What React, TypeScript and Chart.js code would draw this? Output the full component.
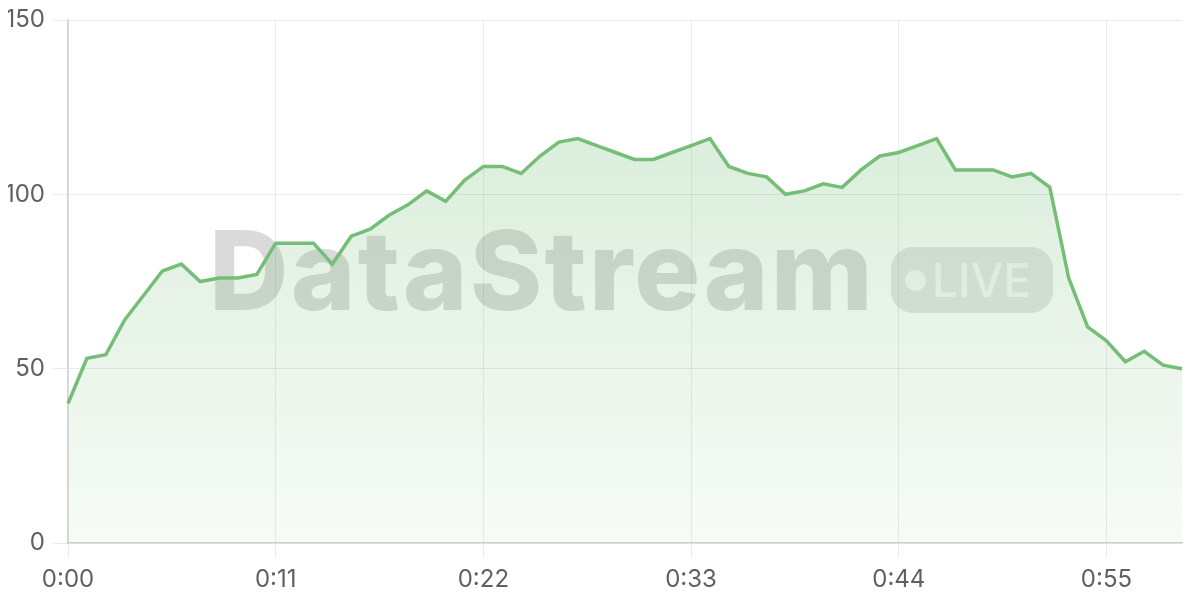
import React, { useEffect, useRef } from "react";
import { Chart, registerables } from "chart.js";

Chart.register(...registerables);

const timeLabels: string[] = [
  "0:00","0:01","0:02","0:03","0:04","0:05","0:06","0:07","0:08","0:09",
  "0:10","0:11","0:12","0:13","0:14","0:15","0:16","0:17","0:18","0:19",
  "0:20","0:21","0:22","0:23","0:24","0:25","0:26","0:27","0:28","0:29",
  "0:30","0:31","0:32","0:33","0:34","0:35","0:36","0:37","0:38","0:39",
  "0:40","0:41","0:42","0:43","0:44","0:45","0:46","0:47","0:48","0:49",
  "0:50","0:51","0:52","0:53","0:54","0:55","0:56","0:57","0:58","0:59",
];

const streamValues: number[] = [
  40, 53, 54, 64, 71, 78, 80, 75, 76, 76,
  77, 86, 86, 86, 80, 88, 90, 94, 97, 101,
  98, 104, 108, 108, 106, 111, 115, 116, 114, 112,
  110, 110, 112, 114, 116, 108, 106, 105, 100, 101,
  103, 102, 107, 111, 112, 114, 116, 107, 107, 107,
  105, 106, 102, 76, 62, 58, 52, 55, 51, 50,
];

const yTicks: number[] = [0, 50, 100, 150];
const labelEvery = 11;

const LINE = "rgb(118, 190, 120)";
const FONT = "Inter, 'Noto Sans', sans-serif";

export default function App() {
  const canvasRef = useRef<HTMLCanvasElement | null>(null);

  useEffect(() => {
    if (!canvasRef.current) return;
    const chart = new Chart(canvasRef.current, {
      type: "line",
      data: {
        labels: timeLabels,
        datasets: [
          {
            data: streamValues,
            borderColor: LINE,
            borderWidth: 3.5,
            tension: 0,
            pointRadius: 0,
            fill: "origin",
            backgroundColor: (ctx: any) => {
              const area = ctx.chart.chartArea;
              if (!area) return "rgba(118,190,120,0.15)";
              const g = ctx.chart.ctx.createLinearGradient(0, area.top, 0, area.bottom);
              g.addColorStop(0, "rgba(118,190,120,0.32)");
              g.addColorStop(1, "rgba(118,190,120,0.06)");
              return g;
            },
          },
        ],
      },
      options: {
        animation: false,
        responsive: true,
        maintainAspectRatio: false,
        layout: { padding: { right: 10 } },
        plugins: {
          legend: { display: false },
          tooltip: { enabled: false },
        },
        scales: {
          x: {
            type: "category",
            offset: false,
            border: { color: "#d2d2d2", width: 1.5 },
            grid: {
              tickLength: 15,
              color: (ctx: any) => (ctx.index % labelEvery === 0 ? "rgba(0,0,0,0.08)" : "transparent"),
              tickColor: (ctx: any) => (ctx.index % labelEvery === 0 ? "rgba(0,0,0,0.08)" : "transparent"),
            },
            afterFit: (scale: any) => {
              scale.height = 49;
            },
            ticks: {
              autoSkip: false,
              maxRotation: 0,
              padding: 7,
              color: "#606060",
              font: { family: FONT, size: 24 },
              callback: (_v: any, i: number) => (i % labelEvery === 0 ? timeLabels[i] : ""),
            },
          },
          y: {
            min: yTicks[0],
            max: yTicks[yTicks.length - 1],
            border: { color: "#d2d2d2", width: 1.5 },
            grid: {
              tickLength: 15,
              color: "rgba(0,0,0,0.08)",
            },
            afterBuildTicks: (scale: any) => {
              scale.ticks = yTicks.map((v) => ({ value: v }));
            },
            afterFit: (scale: any) => {
              scale.paddingTop = 12;
              scale.width = 60;
            },
            ticks: {
              padding: 8,
              color: "#606060",
              font: { family: FONT, size: 24 },
            },
          },
        },
      },
    });
    return () => chart.destroy();
  }, []);

  return (
    <div style={{ position: "relative", width: "100%", height: 584, fontFamily: FONT }}>
      <div
        style={{
          position: "absolute",
          left: 201,
          top: 207,
          fontSize: 110,
          fontWeight: 800,
          lineHeight: 1,
          letterSpacing: 2.3,
          color: "rgba(0,0,0,0.145)",
          whiteSpace: "nowrap",
          pointerEvents: "none",
          zIndex: 0,
        }}
      >
        DataStream
      </div>
      <div
        style={{
          position: "absolute",
          left: 883,
          top: 239,
          width: 162,
          height: 66,
          borderRadius: 22,
          background: "rgba(0,0,0,0.1)",
          display: "flex",
          alignItems: "center",
          pointerEvents: "none",
          zIndex: 0,
        }}
      >
        <div
          style={{
            width: 21,
            height: 21,
            borderRadius: 11,
            marginLeft: 14,
            marginRight: 6,
            background: "rgba(255,255,255,0.75)",
          }}
        />
        <span
          style={{
            fontSize: 46,
            fontWeight: 500,
            lineHeight: 1,
            color: "rgba(255,255,255,0.75)",
          }}
        >
          LIVE
        </span>
      </div>
      <canvas ref={canvasRef} style={{ position: "relative", zIndex: 1 }} />
    </div>
  );
}
